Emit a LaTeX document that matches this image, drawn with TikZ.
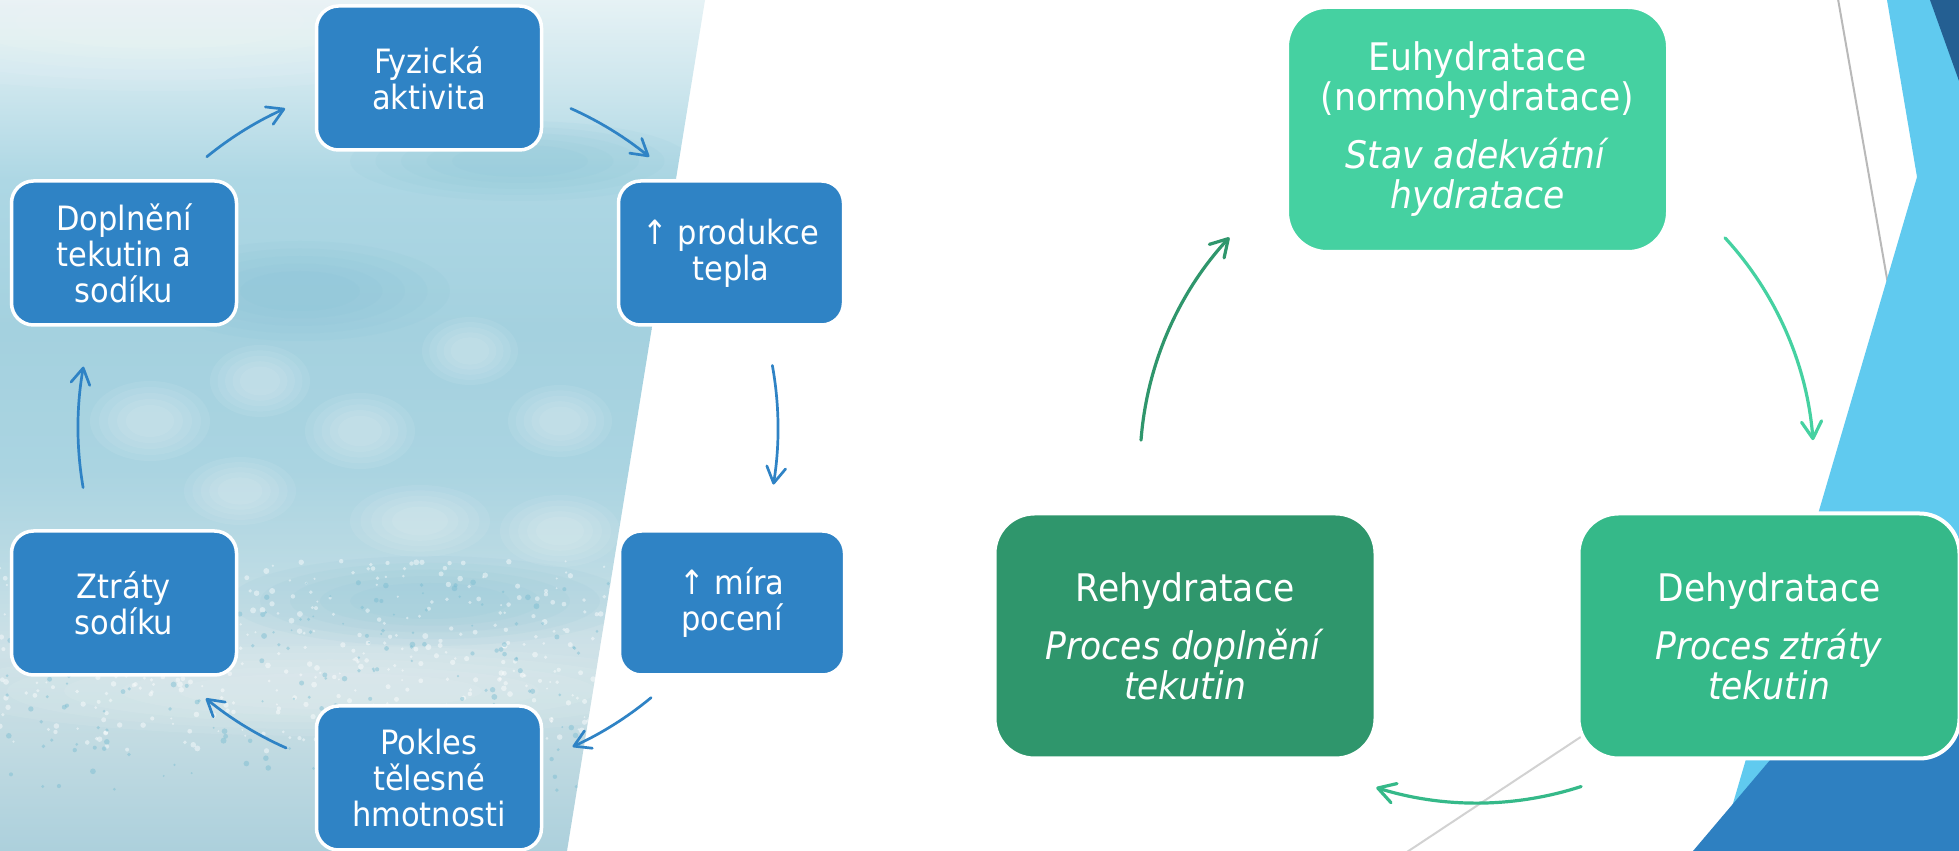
\documentclass[tikz,border=0pt]{standalone}
\usepackage{fontspec}
\setmainfont{DejaVu Sans}[FakeStretch=0.91]
\usetikzlibrary{arrows.meta,calc}
\definecolor{lblue}{HTML}{2F83C5}
\definecolor{eucol}{HTML}{45D1A1}
\definecolor{decol}{HTML}{35B989}
\definecolor{recol}{HTML}{2F966C}
\definecolor{skyblue}{HTML}{60CAEF}
\definecolor{navy}{HTML}{245F92}
\definecolor{midblue}{HTML}{2E80C1}
\definecolor{ph0}{HTML}{E6F2F5}
\definecolor{ph1}{HTML}{CFE7EE}
\definecolor{ph2}{HTML}{ADD7E4}
\definecolor{ph3}{HTML}{A4D1DF}
\definecolor{ph4}{HTML}{AAD4E1}
\definecolor{ph5}{HTML}{BCDBE4}
\definecolor{ph6}{HTML}{CEE1E7}
\definecolor{ph7}{HTML}{C2DBE2}
\definecolor{ph8}{HTML}{ACD0DC}
\definecolor{bokehdark}{HTML}{78BCD1}
\newcommand{\softblob}[5]{%
  \foreach \s in {1,0.85,0.7,0.55,0.4}{%
    \fill[#5, opacity=0.07] (#1,#2) ellipse [x radius={\s*#3}, y radius={\s*#4}];}}
\tikzset{
  lbox/.style={draw=white, line width=3.5pt, fill=lblue, rounded corners=22pt,
    minimum width=225pt, minimum height=144pt, text=white, align=center,
    inner sep=0pt, font=\fontsize{33.5}{36}\selectfont},
  rbox/.style={draw=white, line width=4pt, rounded corners=40pt,
    minimum width=381pt, minimum height=245pt, text=white, align=center,
    inner sep=0pt, font=\fontsize{38}{40}\selectfont},
  larr/.style={draw=lblue, line width=2.7pt, line cap=round,
    -{Straight Barb[length=16pt,width=19pt,round]}},
  rarr/.style={line width=3.2pt, line cap=round,
    -{Straight Barb[length=17pt,width=20pt,round]}},
  decoline/.style={line width=2pt}
}
\begin{document}
\begin{tikzpicture}[x=1pt,y=1pt]
\useasboundingbox (0,0) rectangle (1959,851);
\fill[white] (0,0) rectangle (1959,851);
% photo-like background on the left
\begin{scope}
  \clip (0,851) -- (705,851) -- (567,0) -- (0,0) -- cycle;
  \shade[top color=ph0, bottom color=ph1] (0,771) rectangle (705,852);
  \shade[top color=ph1, bottom color=ph2] (0,671) rectangle (705,771);
  \shade[top color=ph2, bottom color=ph3] (0,521) rectangle (705,671);
  \shade[top color=ph3, bottom color=ph4] (0,381) rectangle (705,521);
  \shade[top color=ph4, bottom color=ph5] (0,281) rectangle (705,381);
  \shade[top color=ph5, bottom color=ph6] (0,201) rectangle (705,281);
  \shade[top color=ph6, bottom color=ph7] (0,111) rectangle (705,201);
  \shade[top color=ph7, bottom color=ph8] (0,-1) rectangle (705,111);
  \softblob{160}{830}{360}{70}{white}
  \softblob{520}{690}{170}{40}{bokehdark}
  \softblob{300}{560}{150}{50}{bokehdark}
  \softblob{430}{250}{200}{45}{bokehdark}
  \softblob{260}{470}{50}{36}{white}
  \softblob{360}{420}{55}{38}{white}
  \softblob{470}{500}{48}{34}{white}
  \softblob{560}{430}{52}{36}{white}
  \softblob{150}{430}{60}{40}{white}
  \softblob{420}{330}{70}{36}{white}
  \softblob{240}{360}{56}{34}{white}
  \softblob{560}{320}{60}{36}{white}
  \softblob{330}{160}{380}{45}{white}
  \pgfmathsetseed{7}
  \foreach \i in {1,...,500}{%
    \pgfmathsetmacro\xx{rnd*700}%
    \pgfmathsetmacro\yy{100+rnd*190}%
    \pgfmathsetmacro\rr{1+rnd*2}%
    \fill[white, opacity=0.45] (\xx,\yy) circle (\rr);}
  \foreach \i in {1,...,250}{%
    \pgfmathsetmacro\xx{rnd*700}%
    \pgfmathsetmacro\yy{60+rnd*210}%
    \pgfmathsetmacro\rr{1+rnd*2}%
    \fill[bokehdark, opacity=0.45] (\xx,\yy) circle (\rr);}
\end{scope}
% right-hand decorations
\draw[decoline, draw=gray!55] (1838,852) -- (1896,521);
\fill[skyblue] (1887,851) -- (1917,674) -- (1719,0) -- (1959,0) -- (1959,851) -- cycle;
\fill[navy] (1930,851) -- (1959,851) -- (1959,770) -- cycle;
\fill[midblue] (1693,0) -- (1959,314) -- (1959,0) -- cycle;
\draw[decoline, draw=gray!35] (1407,-1) -- (1700,193);
% left cycle nodes
\node[lbox] (F) at (429,773) {Fyzická\\aktivita};
\node[lbox] (P) at (731,598) {↑ produkce\\tepla};
\node[lbox] (M) at (732,248) {↑ míra\\pocení};
\node[lbox] (H) at (429,73) {Pokles\\tělesné\\hmotnosti};
\node[lbox] (Z) at (124,248) {Ztráty\\sodíku};
\node[lbox] (D) at (124,598) {Doplnění\\tekutin a\\sodíku};
% left cycle arrows
\coordinate (C1) at (428,423);
\coordinate (a1) at ($(C1)+(129.2:350)$);
\coordinate (a2) at ($(C1)+(65.9:350)$);
\coordinate (a3) at ($(C1)+(10.3:350)$);
\coordinate (a4) at ($(C1)+(-50.4:350)$);
\coordinate (a5) at ($(C1)+(-113.9:350)$);
\coordinate (a6) at ($(C1)+(189.8:350)$);
\draw[larr] (a1) arc[start angle=129.2, end angle=114.1, radius=350];
\draw[larr] (a2) arc[start angle=65.9, end angle=50.8, radius=350];
\draw[larr] (a3) arc[start angle=10.3, end angle=-9.3, radius=350];
\draw[larr] (a4) arc[start angle=-50.4, end angle=-65.6, radius=350];
\draw[larr] (a5) arc[start angle=-113.9, end angle=-129.4, radius=350];
\draw[larr] (a6) arc[start angle=189.8, end angle=169.9, radius=350];
% right cycle nodes
\node[rbox, fill=eucol] (Eu) at (1477.5,721.5) {Euhydratace\\(normohydratace)\\[18pt]\textit{Stav adekvátní}\\\textit{hydratace}};
\node[rbox, fill=recol] (Re) at (1185,215) {Rehydratace\\[18pt]\textit{Proces doplnění}\\\textit{tekutin}};
\node[rbox, fill=decol] (De) at (1769,215) {Dehydratace\\[18pt]\textit{Proces ztráty}\\\textit{tekutin}};
% right cycle arrows
\coordinate (C2) at (1477,385);
\coordinate (b1) at ($(C2)+(42.6:337)$);
\coordinate (b2) at ($(C2)+(-72:337)$);
\coordinate (b3) at ($(C2)+(175.6:337)$);
\draw[rarr, draw=eucol] (b1) arc[start angle=42.6, end angle=4.4, radius=337];
\draw[rarr, draw=decol] (b2) arc[start angle=-72, end angle=-107.4, radius=337];
\draw[rarr, draw=recol] (b3) arc[start angle=175.6, end angle=137.3, radius=337];
\end{tikzpicture}
\end{document}
